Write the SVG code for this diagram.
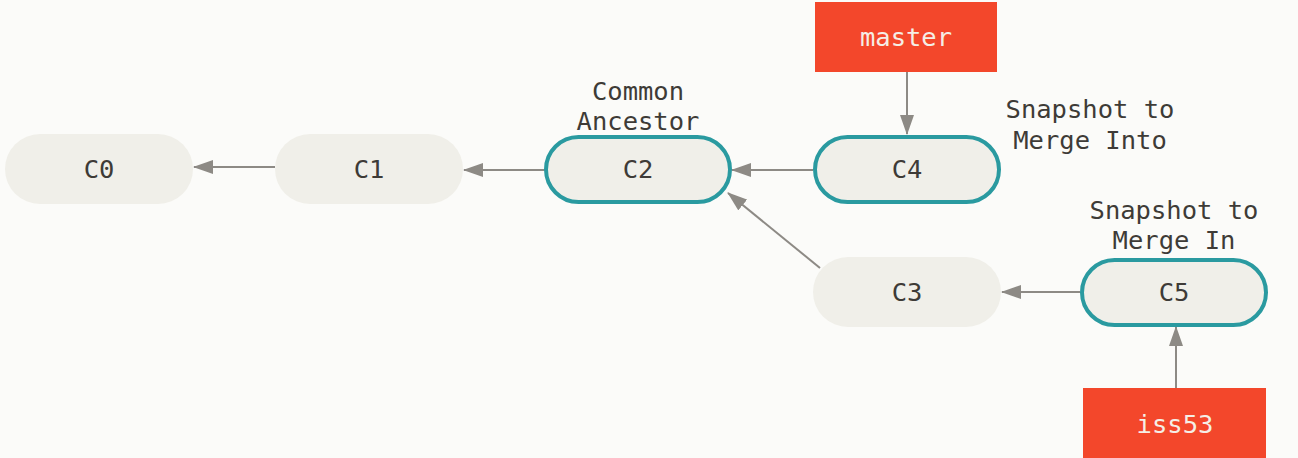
<svg xmlns="http://www.w3.org/2000/svg" width="1298" height="458" viewBox="0 0 1298 458">
<style>
text{font-family:"DejaVu Sans Mono","Liberation Mono",monospace;font-size:25.5px;fill:#3e3b37;text-anchor:middle}
.commit{fill:#f0efe9}
.sel{fill:#f0efe9;stroke:#2a9aa0;stroke-width:4}
.branch{fill:#f3472b}
.branch text,text.bt{fill:#f5eee6}
.conn line{stroke:#8d8a85;stroke-width:2}
</style>
<defs>
<marker id="ah" markerWidth="20" markerHeight="14" refX="19" refY="7" orient="auto" markerUnits="userSpaceOnUse">
<path d="M0,0 L20,7 L0,14 Z" fill="#8d8a85"/>
</marker>
</defs>
<rect width="1298" height="458" fill="#fbfbf9"/>
<g class="conn">
<line x1="275" y1="167" x2="194" y2="167" marker-end="url(#ah)"/>
<line x1="545" y1="170" x2="464" y2="170" marker-end="url(#ah)"/>
<line x1="813" y1="170" x2="732" y2="170" marker-end="url(#ah)"/>
<line x1="820" y1="268" x2="728" y2="193" marker-end="url(#ah)"/>
<line x1="1080" y1="292" x2="1002" y2="292" marker-end="url(#ah)"/>
<line x1="907" y1="72" x2="907" y2="134" marker-end="url(#ah)"/>
<line x1="1176" y1="388" x2="1176" y2="327" marker-end="url(#ah)"/>
</g>
<g id="C0"><rect class="commit" x="5" y="134" width="188" height="70" rx="35"/><text x="99" y="178">C0</text></g>
<g id="C1"><rect class="commit" x="275" y="134" width="188" height="70" rx="35"/><text x="369" y="178">C1</text></g>
<g id="C2"><rect class="sel" x="546" y="137" width="184" height="65" rx="32.5"/><text x="638" y="178">C2</text>
<text x="638" y="100">Common</text><text x="638" y="130">Ancestor</text></g>
<g id="C4"><rect class="sel" x="815" y="137" width="184" height="65" rx="32.5"/><text x="907" y="178">C4</text>
<text x="1090" y="118">Snapshot to</text><text x="1090" y="149">Merge Into</text></g>
<g id="C3"><rect class="commit" x="813" y="257" width="188" height="70" rx="35"/><text x="907" y="301">C3</text></g>
<g id="C5"><rect class="sel" x="1082" y="260" width="184" height="65" rx="32.5"/><text x="1174" y="301">C5</text>
<text x="1174" y="219">Snapshot to</text><text x="1174" y="249">Merge In</text></g>
<g id="master"><rect class="branch" x="815" y="2" width="182" height="70"/><text class="bt" x="906" y="46">master</text></g>
<g id="iss53"><rect class="branch" x="1083" y="388" width="183" height="70"/><text class="bt" x="1175" y="433">iss53</text></g>
</svg>
